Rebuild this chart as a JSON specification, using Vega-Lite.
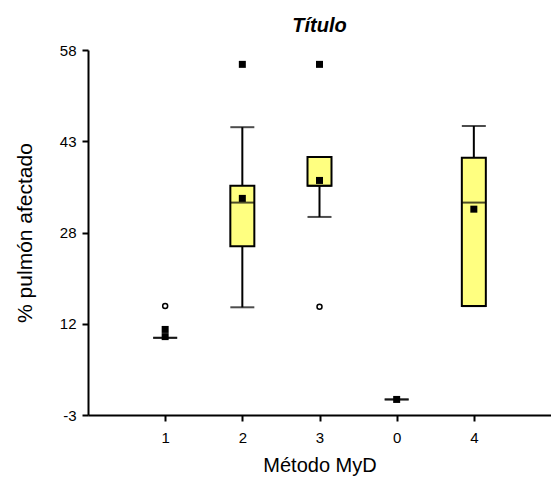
{
  "$schema": "https://vega.github.io/schema/vega-lite/v6.json",
  "width": 463,
  "height": 365,
  "autosize": {"type": "none"},
  "padding": {"left": 88, "top": 50, "right": 0, "bottom": 69},
  "background": "white",
  "title": {"text": "Título", "font": "Liberation Sans", "fontSize": 20, "fontWeight": "bold", "fontStyle": "italic", "color": "black", "anchor": "middle", "baseline": "alphabetic", "offset": -9},
  "config": {
    "view": {"stroke": null},
    "axis": {"grid": false, "domainColor": "black", "tickColor": "black", "labelColor": "black", "titleColor": "black", "labelFont": "Liberation Sans", "titleFont": "Liberation Sans", "labelFontSize": 15, "titleFontWeight": "normal", "domainWidth": 2, "tickWidth": 2, "tickSize": 6}
  },
  "datasets": {
    "cajas": [
      {"metodo": "1", "lo": 9.9, "q1": 9.9, "med": 9.9, "q3": 9.9, "hi": 9.9},
      {"metodo": "2", "lo": 15.0, "q1": 25.2, "med": 32.5, "q3": 35.3, "hi": 45.1},
      {"metodo": "3", "lo": 30.1, "q1": 35.3, "med": 35.3, "q3": 40.1, "hi": 40.1},
      {"metodo": "0", "lo": -0.4, "q1": -0.4, "med": -0.4, "q3": -0.4, "hi": -0.4},
      {"metodo": "4", "lo": 15.2, "q1": 15.2, "med": 32.5, "q3": 40.0, "hi": 45.3}
    ],
    "puntos": [
      {"metodo": "1", "valor": 11.3, "tipo": "media"},
      {"metodo": "1", "valor": 10.1, "tipo": "dato"},
      {"metodo": "1", "valor": 15.2, "tipo": "atipico"},
      {"metodo": "2", "valor": 33.2, "tipo": "media"},
      {"metodo": "2", "valor": 55.6, "tipo": "extremo"},
      {"metodo": "3", "valor": 36.2, "tipo": "media"},
      {"metodo": "3", "valor": 55.6, "tipo": "extremo"},
      {"metodo": "3", "valor": 15.1, "tipo": "atipico"},
      {"metodo": "0", "valor": -0.4, "tipo": "media"},
      {"metodo": "4", "valor": 31.4, "tipo": "media"}
    ]
  },
  "layer": [
    {
      "data": {"name": "cajas"},
      "mark": {"type": "rule", "color": "black", "strokeWidth": 2},
      "encoding": {
        "x": {"field": "metodo", "type": "ordinal", "scale": {"type": "point", "domain": ["1", "2", "3", "0", "4"], "padding": 1}, "axis": {"title": "Método MyD", "labelAngle": 0, "labelFontSize": 15, "titleFontSize": 20, "labelPadding": 9, "titlePadding": 10}},
        "y": {"field": "lo", "type": "quantitative", "title": "% pulmón afectado", "scale": {"domain": [-3, 58], "nice": false, "zero": false}, "axis": {"values": [-3, 12.25, 27.5, 42.75, 58], "labelExpr": "toString(round(datum.value))", "labelFontSize": 15, "titleFontSize": 21, "titlePadding": 24, "labelPadding": 6}},
        "y2": {"field": "hi"}
      }
    },
    {
      "data": {"name": "cajas"},
      "mark": {"type": "tick", "color": "black", "size": 24, "thickness": 2},
      "encoding": {
        "x": {"field": "metodo", "type": "ordinal"},
        "y": {"field": "lo", "type": "quantitative", "title": "% pulmón afectado"}
      }
    },
    {
      "data": {"name": "cajas"},
      "transform": [{"filter": "datum.hi > datum.q3"}],
      "mark": {"type": "tick", "color": "black", "size": 24, "thickness": 2},
      "encoding": {
        "x": {"field": "metodo", "type": "ordinal"},
        "y": {"field": "hi", "type": "quantitative", "title": "% pulmón afectado"}
      }
    },
    {
      "data": {"name": "cajas"},
      "transform": [{"filter": "datum.q3 > datum.q1"}],
      "mark": {"type": "bar", "width": 24, "fill": "#ffff80", "stroke": "black", "strokeWidth": 2},
      "encoding": {
        "x": {"field": "metodo", "type": "ordinal"},
        "y": {"field": "q1", "type": "quantitative", "title": "% pulmón afectado"},
        "y2": {"field": "q3"}
      }
    },
    {
      "data": {"name": "cajas"},
      "mark": {"type": "tick", "color": "black", "size": 24, "thickness": 2},
      "encoding": {
        "x": {"field": "metodo", "type": "ordinal"},
        "y": {"field": "med", "type": "quantitative", "title": "% pulmón afectado"}
      }
    },
    {
      "data": {"name": "puntos"},
      "transform": [{"filter": "datum.tipo != 'atipico'"}],
      "mark": {"type": "point", "shape": "square", "filled": true, "color": "black", "size": 49, "opacity": 1},
      "encoding": {
        "x": {"field": "metodo", "type": "ordinal"},
        "y": {"field": "valor", "type": "quantitative", "title": "% pulmón afectado"}
      }
    },
    {
      "data": {"name": "puntos"},
      "transform": [{"filter": "datum.tipo == 'atipico'"}],
      "mark": {"type": "point", "shape": "circle", "filled": false, "fill": "white", "stroke": "black", "strokeWidth": 1.5, "size": 25, "opacity": 1},
      "encoding": {
        "x": {"field": "metodo", "type": "ordinal"},
        "y": {"field": "valor", "type": "quantitative", "title": "% pulmón afectado"}
      }
    }
  ]
}
